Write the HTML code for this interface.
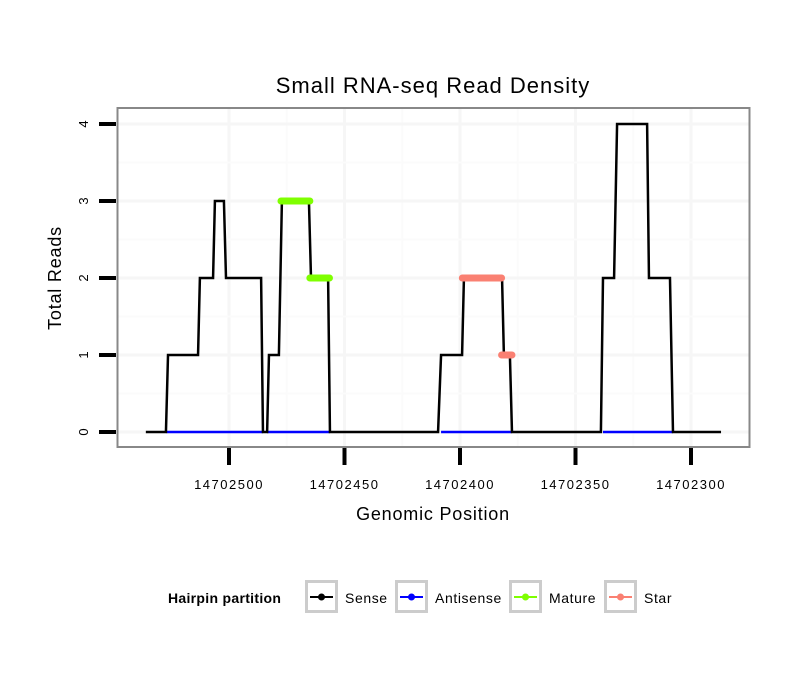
<!DOCTYPE html>
<html><head><meta charset="utf-8"><style>
body{margin:0;background:#fff;}
svg text{font-family:"Liberation Sans",sans-serif;}
</style></head><body>
<svg id="chart" width="810" height="690" xmlns="http://www.w3.org/2000/svg">
<rect width="810" height="690" fill="#fff"/>
<text x="433" y="93" font-size="22" letter-spacing="1" text-anchor="middle" fill="#000">Small RNA-seq Read Density</text>
<g id="grid"></g>
<g id="series"></g>
<rect x="117.5" y="108" width="632" height="339" fill="none" stroke="#888" stroke-width="2"/>
<g id="axes"></g>
<text x="433" y="520" font-size="18" letter-spacing="0.8" text-anchor="middle">Genomic Position</text>
<text transform="translate(61,278) rotate(-90)" font-size="18" letter-spacing="0.8" text-anchor="middle">Total Reads</text>
<g>
<text x="168" y="603" font-size="14" font-weight="bold" letter-spacing="0.3">Hairpin partition</text>
<g id="legend"></g>
</g>
</svg>
<script>
const xTicks=[14702500,14702450,14702400,14702350,14702300];
const yTicks=[0,1,2,3,4];
const senseX=[14702536,14702527.3,14702526.4,14702513.4,14702512.6,14702506.9,14702506.1,14702502.2,14702501.3,14702486.1,14702485.3,14702483.5,14702482.7,14702478.4,14702477.1,14702465.4,14702464.5,14702457.1,14702456.3,14702409.5,14702408.2,14702399.1,14702398.3,14702381.8,14702381.0,14702378.4,14702377.5,14702339,14702338.1,14702333.3,14702332,14702319,14702318.2,14702309.1,14702307.8,14702287];
const senseY=[0,0,1,1,2,2,3,3,2,2,0,0,1,1,3,3,2,2,0,0,1,1,2,2,1,1,0,0,2,2,4,4,2,2,0,0];
const antiStart=[14702527,14702483.5,14702408.2,14702338.1];
const antiEnd=[14702485.3,14702456.3,14702377.5,14702307.8];
const matureStart=[14702477.5,14702465];
const matureEnd=[14702465,14702456.5];
const matureY=[3,2];
const starStart=[14702399,14702382];
const starEnd=[14702382,14702377.5];
const starY=[2,1];
const legendLabels=["Sense","Antisense","Mature","Star"];
const legendColors=["#000","#0000ff","#7fff00","#fa8072"];

const NS="http://www.w3.org/2000/svg";
const X=v=>229+(14702500-v)*2.31;
const Y=v=>432-v*77;
function mk(tag,attrs,parent){const e=document.createElementNS(NS,tag);for(const k in attrs)e.setAttribute(k,attrs[k]);parent.appendChild(e);return e;}
const grid=document.getElementById('grid'),axes=document.getElementById('axes'),ser=document.getElementById('series'),leg=document.getElementById('legend');
for(let i=0;i<xTicks.length;i++){
  const l=mk('line',{x1:X(xTicks[i]),x2:X(xTicks[i]),y1:108,y2:447,stroke:'#f6f6f6','stroke-width':3},grid);
  
  if(i<xTicks.length-1){const m=(xTicks[i]+xTicks[i+1])/2;const g=mk('line',{x1:X(m),x2:X(m),y1:108,y2:447,stroke:'#fbfbfb','stroke-width':2},grid);
  }
  const t=mk('line',{x1:X(xTicks[i]),x2:X(xTicks[i]),y1:448,y2:465,stroke:'#000','stroke-width':4},axes);
  
  const tx=mk('text',{x:X(xTicks[i]),y:489,'font-size':13,'letter-spacing':1.5,'text-anchor':'middle'},axes);tx.textContent=xTicks[i];
  
}
for(let i=0;i<yTicks.length;i++){
  const l=mk('line',{x1:118,x2:749,y1:Y(yTicks[i]),y2:Y(yTicks[i]),stroke:'#f6f6f6','stroke-width':3},grid);
  
  if(i<yTicks.length-1){const m=(yTicks[i]+yTicks[i+1])/2;const g=mk('line',{x1:118,x2:749,y1:Y(m),y2:Y(m),stroke:'#fbfbfb','stroke-width':2},grid);
  }
  const t=mk('line',{x1:99,x2:116,y1:Y(yTicks[i]),y2:Y(yTicks[i]),stroke:'#000','stroke-width':4},axes);
  
  const tx=mk('text',{transform:`translate(88,${Y(yTicks[i])}) rotate(-90)`,'font-size':13,'text-anchor':'middle'},axes);tx.textContent=yTicks[i];
  
}
for(let i=0;i<antiStart.length;i++){
  const l=mk('line',{x1:X(antiStart[i]),x2:X(antiEnd[i]),y1:Y(0),y2:Y(0),stroke:'#0000ff','stroke-width':2.5},ser);
  
}
const sp=mk('polyline',{points:senseX.map((v,i)=>X(v)+','+Y(senseY[i])).join(' '),fill:'none',stroke:'#000','stroke-width':2.5},ser);

function thick(s,e,y,c,name){for(let i=0;i<s.length;i++){
  const l=mk('line',{x1:X(s[i]),x2:X(e[i]),y1:Y(y[i]),y2:Y(y[i]),stroke:c,'stroke-width':7,'stroke-linecap':'round'},ser);
  }}
thick(matureStart,matureEnd,matureY,'#7fff00','mature-segment');
thick(starStart,starEnd,starY,'#fa8072','star-segment');
const kx=[305,395,509,604];
for(let i=0;i<legendLabels.length;i++){
  const g=mk('g',{},leg);
  
  mk('rect',{x:kx[i]+1.5,y:581.5,width:30,height:30,fill:'#fff',stroke:'#ccc','stroke-width':3},g);
  mk('line',{x1:kx[i]+5,x2:kx[i]+28,y1:597,y2:597,stroke:legendColors[i],'stroke-width':2},g);
  mk('circle',{cx:kx[i]+16.5,cy:597,r:3.5,fill:legendColors[i]},g);
  const t=mk('text',{x:kx[i]+40,y:603,'font-size':14,'letter-spacing':0.6},g);t.textContent=legendLabels[i];
}
</script>
</body></html>
